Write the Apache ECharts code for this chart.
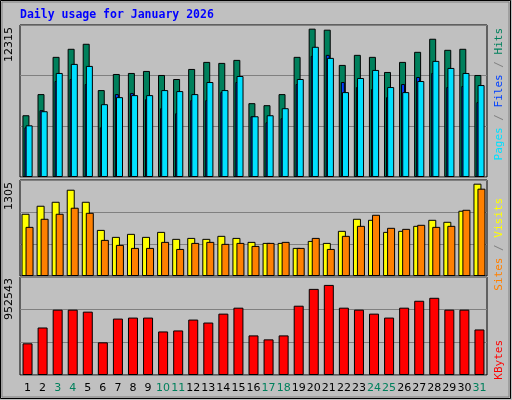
<!DOCTYPE html>
<html><head><meta charset="utf-8">
<script src="https://cdn.jsdelivr.net/npm/echarts@6/dist/echarts.min.js"></script>
<style>html,body{margin:0;padding:0;background:#c0c0c0}#c{width:512px;height:400px}</style>
</head><body><div id="c"></div>
<script>
const days = ['1','2','3','4','5','6','7','8','9','10','11','12','13','14','15','16','17','18','19','20','21','22','23','24','25','26','27','28','29','30','31'];
const weekend = ['3','4','10','11','17','18','24','25','31'];
const hits = [5003,6716,9734,10387,10794,7042,8347,8429,8592,8266,7939,8755,9326,9245,9489,5982,5819,6716,9734,12018,11936,9081,9897,9734,8510,9326,10142,11202,10305,10387,8266];
const files = [4187,5329,8429,9163,9000,5900,6471,6634,6634,7042,6961,6716,7695,7042,8184,4921,5003,5574,7939,10550,9652,6879,8021,8674,7287,6879,7776,9408,8837,8429,7450];
const pages = [4024,5411,7776,7939,7532,4024,6716,6798,6308,5574,5166,6227,6227,6879,7695,4921,4432,4758,7532,9816,9897,7695,7287,7124,6471,7532,8103,8429,7287,7369,6063];
const visits = [846,955,1009,1173,1009,627,532,573,532,600,505,518,505,546,518,464,450,450,382,477,450,614,778,764,600,614,682,764,737,887,1255];
const sites = [668,778,846,928,859,491,423,382,382,464,368,450,464,437,450,409,450,464,382,518,368,546,682,832,655,641,696,668,682,900,1187];
const kbytes = [307900,461800,635000,635000,615800,317500,548400,558100,558100,423300,433000,538800,509900,596500,654300,384900,346400,384900,673500,837100,875600,654300,635000,596500,558100,654300,721600,750500,635000,635000,442600];
const maxHits = 12315, maxVisits = 1305, maxKB = 952543;

const chart = echarts.init(document.getElementById('c'));
const grids = [
  {left:20,right:25,top:25,height:152},
  {left:20,right:25,top:180,height:96},
  {left:20,right:25,top:277,height:98}
].map(g=>Object.assign(g,{show:true,borderColor:'#000',borderWidth:1,backgroundColor:'transparent'}));
function xa(i,showLabel){return {type:'category',gridIndex:i,data:days,axisTick:{show:false},axisLine:{show:false},
  axisLabel:{show:showLabel,interval:0,margin:8,fontFamily:'DejaVu Sans',fontSize:11,
    formatter:v=>weekend.includes(v)?'{w|'+v+'}':'{n|'+v+'}',
    rich:{w:{color:'#00805c',fontFamily:'DejaVu Sans',fontSize:11},n:{color:'#000',fontFamily:'DejaVu Sans',fontSize:11}}}};}
function ya(i,max){return {type:'value',gridIndex:i,min:0,max:max,interval:max/3,axisLabel:{show:false},axisLine:{show:false},axisTick:{show:false},
  splitLine:{lineStyle:{color:'#808080',width:1}}};}
const bs = {borderColor:'#000',borderWidth:1};
chart.setOption({
  animation:false,
  backgroundColor:'#c0c0c0',
  grid:grids,
  xAxis:[xa(0,false),xa(1,false),xa(2,true)],
  yAxis:[ya(0,maxHits),ya(1,maxVisits),ya(2,maxKB)],
  series:[
    {type:'bar',xAxisIndex:0,yAxisIndex:0,data:hits,barWidth:7,barGap:'-71%',itemStyle:Object.assign({color:'#00805c'},bs)},
    {type:'bar',xAxisIndex:0,yAxisIndex:0,data:pages,barWidth:4,barGap:'-71%',itemStyle:Object.assign({color:'#0040ff'},bs)},
    {type:'bar',xAxisIndex:0,yAxisIndex:0,data:files,barWidth:7,barGap:'-71%',itemStyle:Object.assign({color:'#00e0ff'},bs)},
    {type:'bar',xAxisIndex:1,yAxisIndex:1,data:visits,barWidth:8,barGap:'-50%',itemStyle:Object.assign({color:'#ffff00'},bs)},
    {type:'bar',xAxisIndex:1,yAxisIndex:1,data:sites,barWidth:8,barGap:'-50%',itemStyle:Object.assign({color:'#ff8000'},bs)},
    {type:'bar',xAxisIndex:2,yAxisIndex:2,data:kbytes,barWidth:10,itemStyle:Object.assign({color:'#ff0000'},bs)}
  ],
  graphic:[
    {type:'rect',shape:{x:0.5,y:0.5,width:510,height:398},style:{fill:'none',stroke:'#000',lineWidth:1}},
    {type:'rect',shape:{x:2,y:2,width:507,height:395},style:{fill:'none',stroke:'#808080',lineWidth:1}},
    {type:'text',x:20,y:9,style:{text:'Daily usage for January 2026',font:'bold 11.5px DejaVu Sans Mono',fill:'#0000ff'}},
    {type:'text',x:9,y:27,rotation:Math.PI/2,style:{text:String(maxHits),font:'11px DejaVu Sans',fill:'#000',align:'right',verticalAlign:'middle'}},
    {type:'text',x:9,y:182,rotation:Math.PI/2,style:{text:String(maxVisits),font:'11px DejaVu Sans',fill:'#000',align:'right',verticalAlign:'middle'}},
    {type:'text',x:9,y:278,rotation:Math.PI/2,style:{text:String(maxKB),font:'11px DejaVu Sans',fill:'#000',align:'right',verticalAlign:'middle'}},
    {type:'text',x:499,y:28,rotation:Math.PI/2,style:{text:'{p|Pages} {s|/} {f|Files} {s|/} {h|Hits}',font:'11px DejaVu Sans Mono',align:'right',verticalAlign:'middle',
      rich:{p:{fill:'#00e0ff',font:'11px DejaVu Sans Mono'},f:{fill:'#0040ff',font:'11px DejaVu Sans Mono'},h:{fill:'#00805c',font:'11px DejaVu Sans Mono'},s:{fill:'#808080',font:'11px DejaVu Sans Mono'}}}},
    {type:'text',x:499,y:198,rotation:Math.PI/2,style:{text:'{a|Sites} {s|/} {b|Visits}',font:'11px DejaVu Sans Mono',align:'right',verticalAlign:'middle',
      rich:{a:{fill:'#ff8000',font:'11px DejaVu Sans Mono'},b:{fill:'#ffff00',font:'11px DejaVu Sans Mono'},s:{fill:'#808080',font:'11px DejaVu Sans Mono'}}}},
    {type:'text',x:499,y:340,rotation:Math.PI/2,style:{text:'KBytes',font:'11px DejaVu Sans Mono',fill:'#ff0000',align:'right',verticalAlign:'middle'}}
  ]
});
</script></body></html>
